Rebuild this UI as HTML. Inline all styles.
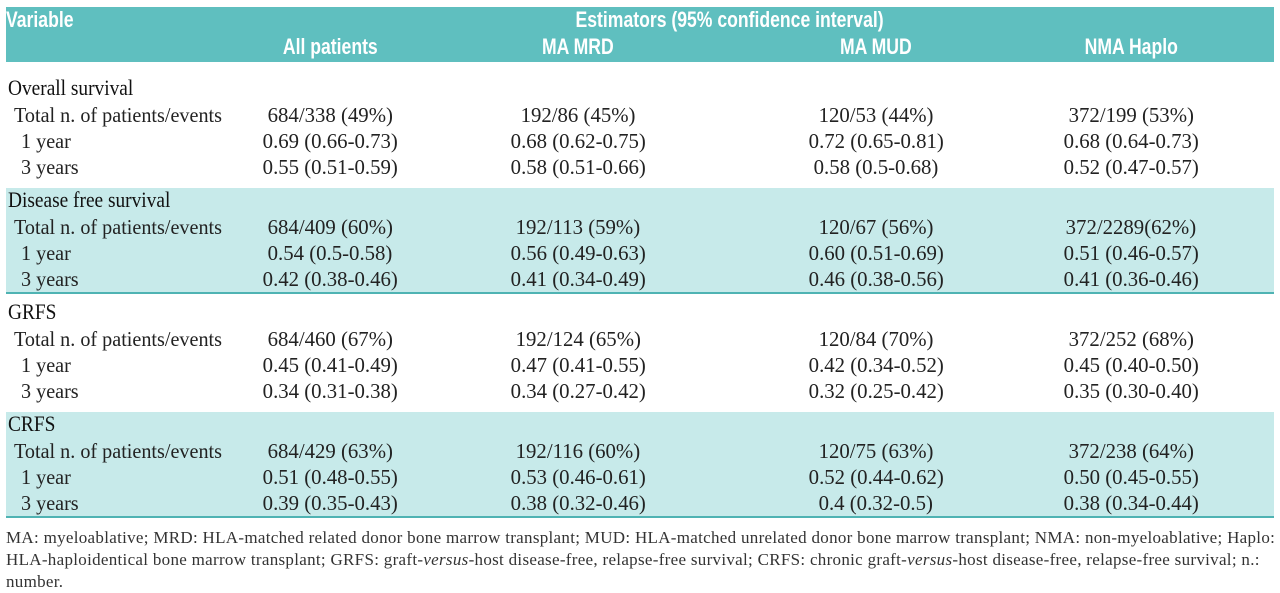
<!DOCTYPE html>
<html><head><meta charset="utf-8"><style>
body{margin:0;width:1280px;height:593px;background:#fff;position:relative;overflow:hidden;font-family:"Liberation Serif",serif;color:#222}
.t{position:absolute;white-space:nowrap;line-height:20px;font-size:21px;transform-origin:0 50%}
.c{position:absolute;white-space:nowrap;line-height:20px;font-size:21px;width:300px;text-align:center}
.c span{display:inline-block;transform:scaleX(0.99)}
.h{position:absolute;white-space:nowrap;color:#fff;font-family:"Liberation Sans",sans-serif;font-weight:bold;font-size:22px;line-height:22px}
.h span{display:inline-block;transform:scaleX(0.8)}
.band{position:absolute;left:6px;width:1268px;background:#c7eaea;border-bottom:2px solid #4fb3b3}
.foot{position:absolute;left:6px;font-size:17px;line-height:22px;color:#333;white-space:nowrap;letter-spacing:0.3px}
</style></head><body>
<div style="position:absolute;left:6px;top:7px;width:1268px;height:55px;background:#5fbfbf"></div>
<div class="h" style="left:6px;top:9px"><span style="transform-origin:0 50%">Variable</span></div>
<div class="h" style="left:480px;width:500px;text-align:center;top:9px"><span>Estimators (95% confidence interval)</span></div>
<div id="root"></div>
<div class="foot" style="top:527px">MA: myeloablative; MRD: HLA-matched related donor bone marrow transplant; MUD: HLA-matched unrelated donor bone marrow transplant; NMA: non-myeloablative; Haplo:<br>HLA-haploidentical bone marrow transplant; GRFS: graft-<i>versus</i>-host disease-free, relapse-free survival; CRFS: chronic graft-<i>versus</i>-host disease-free, relapse-free survival; n.:<br>number.</div>
<script>
const columns=["All patients","MA MRD","MA MUD","NMA Haplo"];
const sections=["Overall survival","Disease free survival","GRFS","CRFS"];
const rowLabels=["Total n. of patients/events","1 year","3 years"];
const values=[
[["684/338 (49%)","192/86 (45%)","120/53 (44%)","372/199 (53%)"],["0.69 (0.66-0.73)","0.68 (0.62-0.75)","0.72 (0.65-0.81)","0.68 (0.64-0.73)"],["0.55 (0.51-0.59)","0.58 (0.51-0.66)","0.58 (0.5-0.68)","0.52 (0.47-0.57)"]],
[["684/409 (60%)","192/113 (59%)","120/67 (56%)","372/2289(62%)"],["0.54 (0.5-0.58)","0.56 (0.49-0.63)","0.60 (0.51-0.69)","0.51 (0.46-0.57)"],["0.42 (0.38-0.46)","0.41 (0.34-0.49)","0.46 (0.38-0.56)","0.41 (0.36-0.46)"]],
[["684/460 (67%)","192/124 (65%)","120/84 (70%)","372/252 (68%)"],["0.45 (0.41-0.49)","0.47 (0.41-0.55)","0.42 (0.34-0.52)","0.45 (0.40-0.50)"],["0.34 (0.31-0.38)","0.34 (0.27-0.42)","0.32 (0.25-0.42)","0.35 (0.30-0.40)"]],
[["684/429 (63%)","192/116 (60%)","120/75 (63%)","372/238 (64%)"],["0.51 (0.48-0.55)","0.53 (0.46-0.61)","0.52 (0.44-0.62)","0.50 (0.45-0.55)"],["0.39 (0.35-0.43)","0.38 (0.32-0.46)","0.4 (0.32-0.5)","0.38 (0.34-0.44)"]]
];
const colX=[330,578,876,1131];
const root=document.getElementById('root');
function mk(cls,html,left,top){const d=document.createElement('div');d.className=cls;d.style.left=left+'px';d.style.top=top+'px';d.innerHTML=html;root.appendChild(d);return d;}
columns.forEach((c,i)=>{const d=mk('h','<span>'+c+'</span>',colX[i]-150,36);d.style.width='300px';d.style.textAlign='center';

});
sections.forEach((s,si)=>{
 const y=88+si*112;
 if(si%2==1){const b=mk('band','',6,y-12);b.style.height=(106-2)+'px';
 
 }
 const t=mk('t','<span style="display:inline-block;transform:scaleX(0.88);transform-origin:0 50%;font-size:22px;color:#111">'+s+'</span>',8,y-10);
 
 
 rowLabels.forEach((r,ri)=>{
  const ry=y+27+ri*26;
  const l=mk('t','<span style="display:inline-block;transform:scaleX(0.96);transform-origin:0 50%">'+r+'</span>',ri==0?14:21,ry-10);
  
  
  values[si][ri].forEach((v,ci)=>{
   const c=mk('c','<span>'+v+'</span>',colX[ci]-150,ry-10);
   
   
  });
 });
});
</script>
</body></html>
